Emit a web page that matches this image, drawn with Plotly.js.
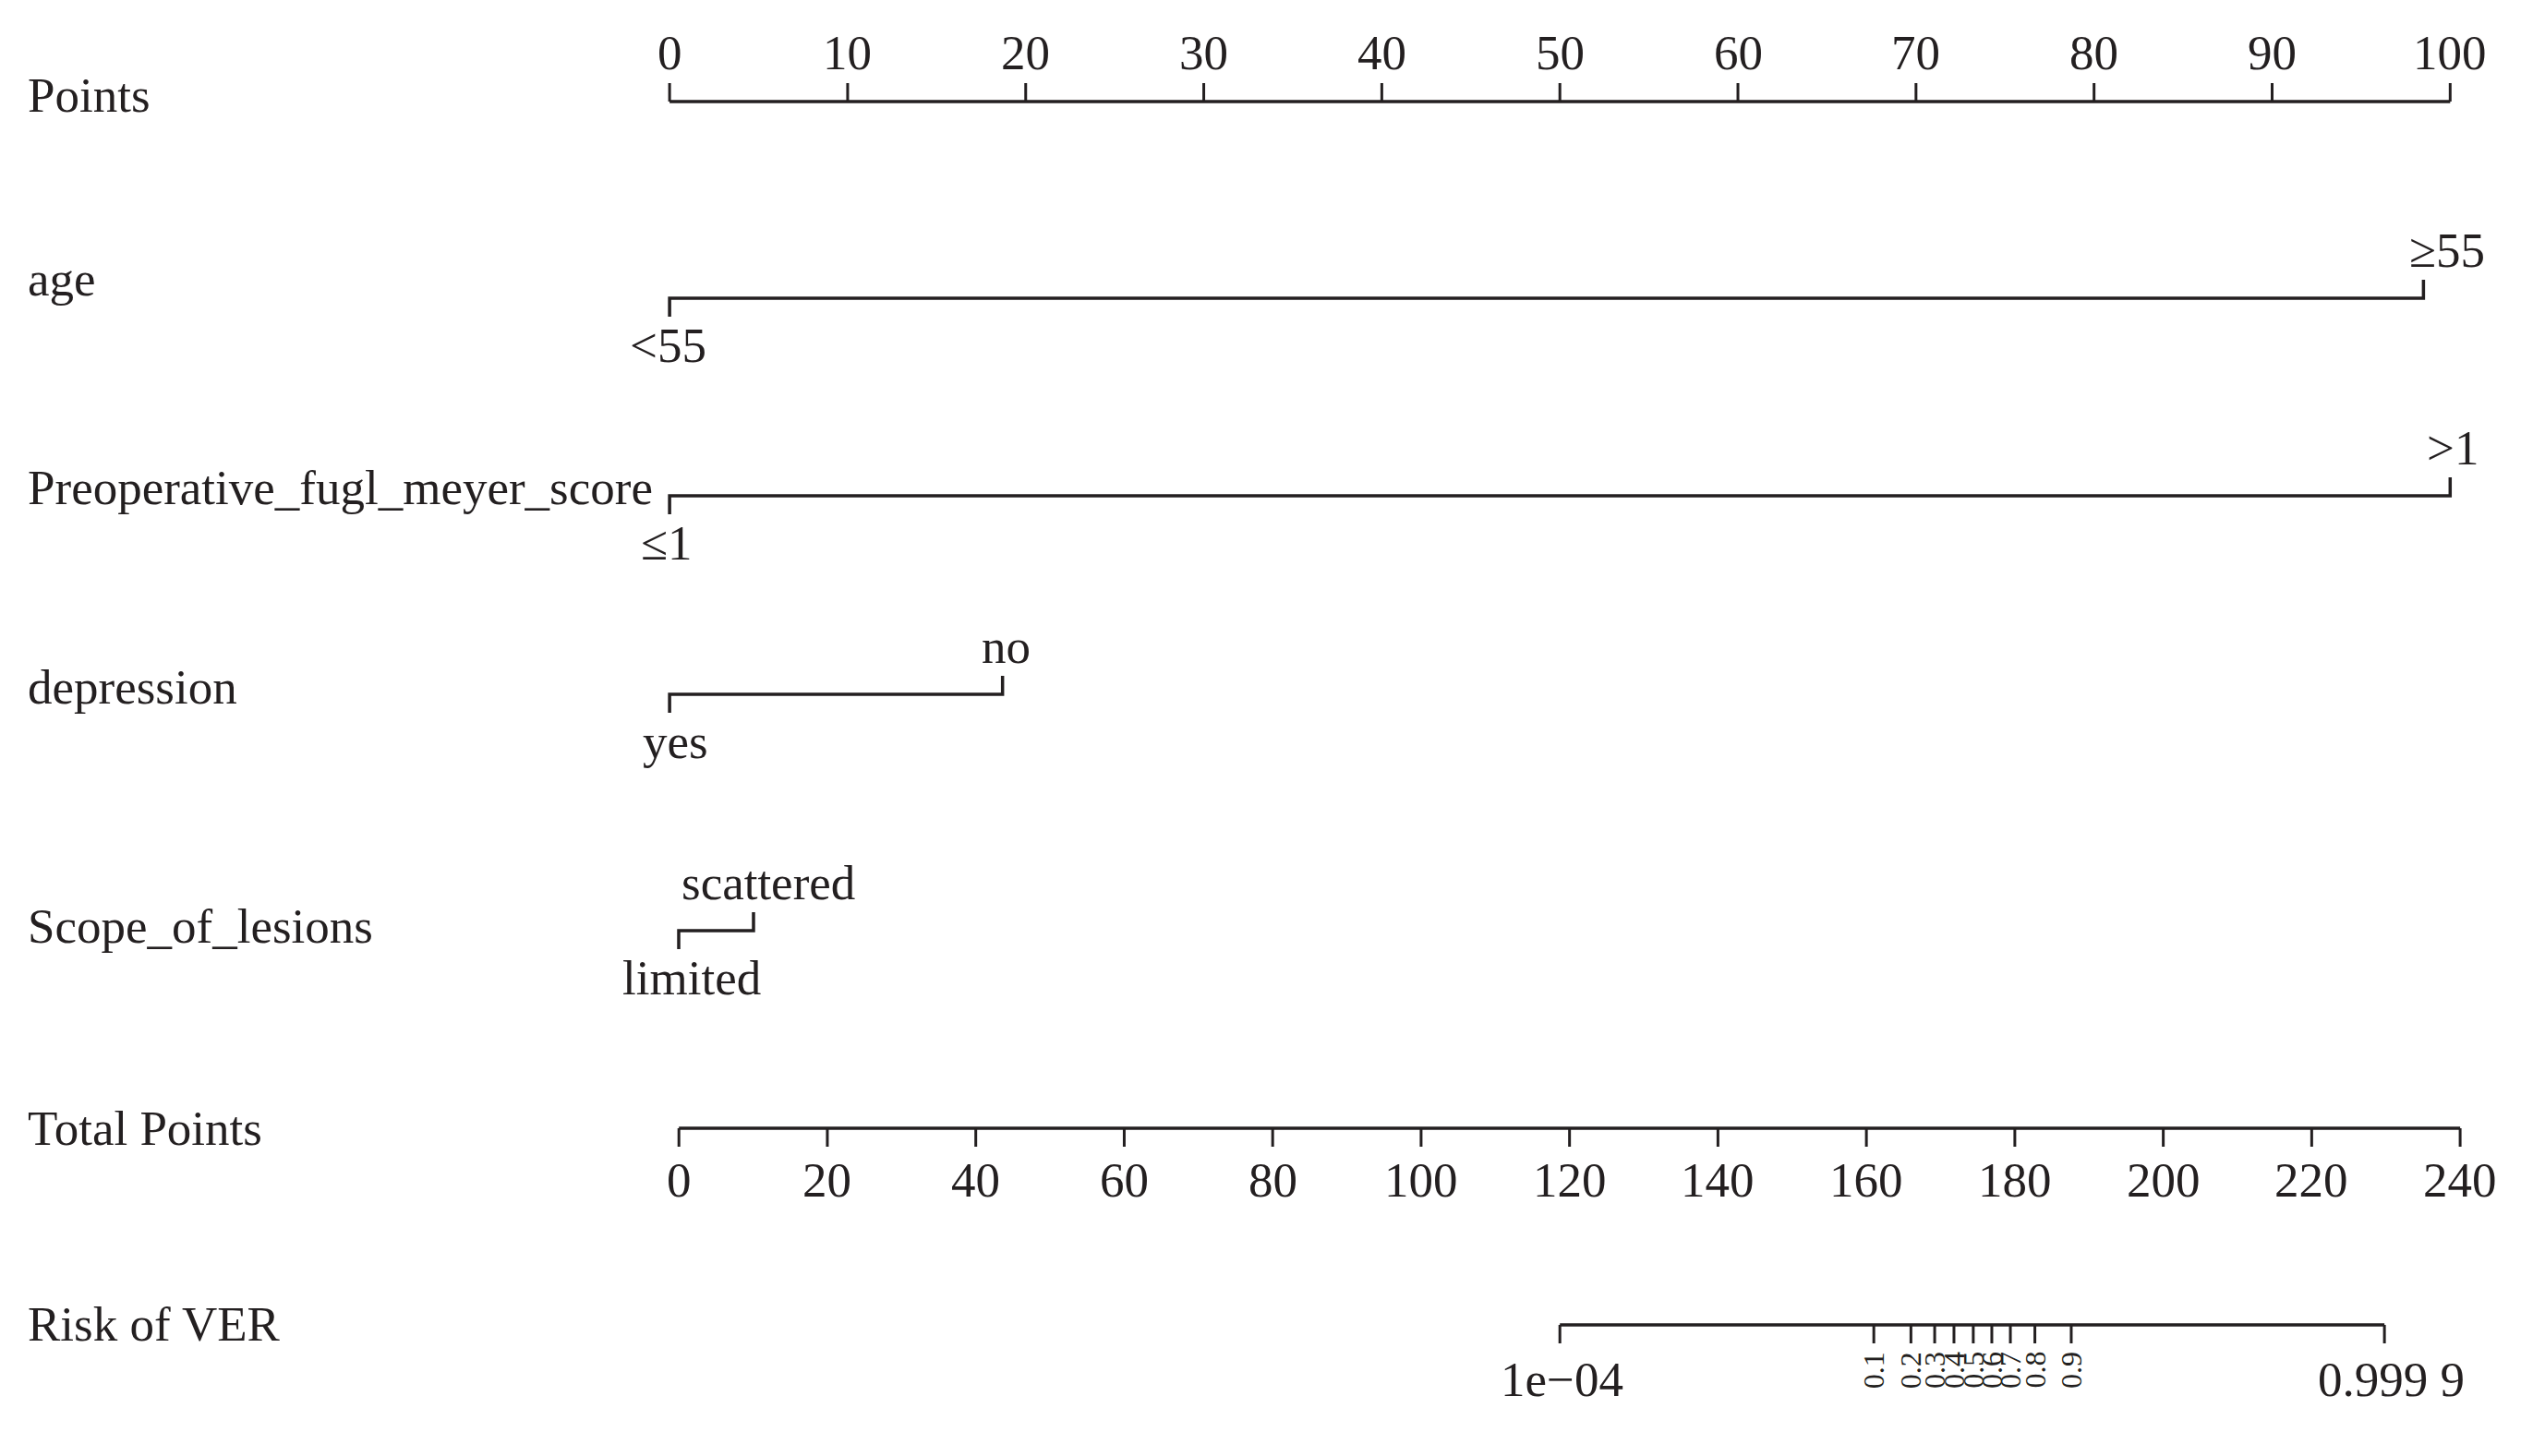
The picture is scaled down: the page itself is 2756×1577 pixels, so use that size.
<!DOCTYPE html>
<html>
<head>
<meta charset="utf-8">
<script src="https://cdn.plot.ly/plotly-3.0.1.min.js"></script>
<style>html,body{margin:0;padding:0;background:#fff;}#chart{width:2756px;height:1577px;}</style>
</head>
<body>
<div id="chart"></div>
<script>
// ---------------- DATA ----------------
const rowNames = ['Points', 'age', 'Preoperative_fugl_meyer_score', 'depression', 'Scope_of_lesions', 'Total Points', 'Risk of VER'];
const pointsTicks = [0, 10, 20, 30, 40, 50, 60, 70, 80, 90, 100];
const pointsTickLabels = ['0', '10', '20', '30', '40', '50', '60', '70', '80', '90', '100'];
const ageLevels = ['<55', '≥55'];
const agePoints = [0, 98.5];
const preopLevels = ['≤1', '>1'];
const preopPoints = [0, 100];
const depressionLevels = ['yes', 'no'];
const depressionPoints = [0, 18.7];
const scopeLevels = ['limited', 'scattered'];
const scopePoints = [0, 4.2];
const totalTicks = [0, 20, 40, 60, 80, 100, 120, 140, 160, 180, 200, 220, 240];
const totalTickLabels = ['0', '20', '40', '60', '80', '100', '120', '140', '160', '180', '200', '220', '240'];
const riskLabels = ['1e\u221204', '0.1', '0.2', '0.3', '0.4', '0.5', '0.6', '0.7', '0.8', '0.9', '0.999 9'];
const riskTotalPoints = [118.7, 161.0, 166.0, 169.2, 171.8, 174.4, 176.9, 179.4, 182.7, 187.6, 229.8];

// ---------------- STYLE / LAYOUT ----------------
const INK = '#231f20';
const FONT = 'Liberation Serif, Times New Roman, serif';
const FS = 53, FS_SMALL = 32;
const TICK = 20;
const DESC = 12; // offset from baseline to annotation box bottom
const rowY = {points: 110, age: 323, preop: 537, depression: 752, scope: 1008, total: 1222, risk: 1435};
const rowLabelBaseline = [122, 321, 547, 763, 1022, 1241, 1453];
const upBase = -33, downBase = 70;

const traces = [];
const annotations = [];

function lineTrace(x, y, xa, w) {
  traces.push({type: 'scatter', mode: 'lines', x: x, y: y, xaxis: xa, yaxis: 'y',
    line: {color: INK, width: w || 3.5}, hoverinfo: 'skip', showlegend: false, connectgaps: false});
}
function ann(text, x, xa, yBottom, opts) {
  annotations.push(Object.assign({
    text: text, x: x, xref: xa, y: yBottom, yref: 'y', xanchor: 'center', yanchor: 'bottom',
    showarrow: false, font: {family: FONT, size: FS, color: INK}
  }, opts || {}));
}

// axis with ticks (dir: -1 up, +1 down)
function axisRow(ticks, y, dir, xa) {
  lineTrace([ticks[0], ticks[ticks.length - 1]], [y, y], xa, 3.5);
  const x = [], yy = [];
  ticks.forEach(t => { x.push(t, t, null); yy.push(y, y + dir * TICK, null); });
  lineTrace(x, yy, xa, 3);
}
// categorical variable row
function varRow(pts, levels, y, xa, shifts) {
  lineTrace([pts[0], pts[0], pts[1], pts[1]], [y + TICK, y, y, y - TICK], xa, 3.5);
  ann(levels[0], pts[0], xa, y + downBase + DESC, {xshift: shifts ? shifts[0] : 0});
  ann(levels[1], pts[1], xa, y + upBase + DESC, {xshift: shifts ? shifts[1] : 0});
}

// Points axis
axisRow(pointsTicks, rowY.points, -1, 'x');
pointsTicks.forEach((t, i) => ann(pointsTickLabels[i], t, 'x', rowY.points - 34 + DESC));

varRow(agePoints, ageLevels, rowY.age, 'x', [-2, 26]);
varRow(preopPoints, preopLevels, rowY.preop, 'x', [-3, 3]);
varRow(depressionPoints, depressionLevels, rowY.depression, 'x', [6, 4]);
varRow(scopePoints, scopeLevels, rowY.scope, 'x2', [14, 16]);

// Total points axis
axisRow(totalTicks, rowY.total, 1, 'x3');
totalTicks.forEach((t, i) => ann(totalTickLabels[i], t, 'x3', rowY.total + 75 + DESC));

// Risk axis
axisRow(riskTotalPoints, rowY.risk, 1, 'x3');
riskTotalPoints.forEach((t, i) => {
  if (i === 0 || i === riskLabels.length - 1) {
    ann(riskLabels[i], t, 'x3', rowY.risk + 78 + DESC, {xshift: i === 0 ? 2 : 7});
  } else {
    ann(riskLabels[i], t, 'x3', rowY.risk + 27, {textangle: -90, yanchor: 'top',
      font: {family: FONT, size: FS_SMALL, color: INK}});
  }
});

// Row names
rowNames.forEach((n, i) => {
  annotations.push({text: n, x: 28 / 2756, xref: 'paper', y: rowLabelBaseline[i] + DESC, yref: 'y',
    xanchor: 'left', yanchor: 'bottom', showarrow: false, font: {family: FONT, size: FS, color: INK}});
});

const W = 2756, H = 1577;
const p0 = 725.1, s1 = (2653.3 - 725.1) / 100;
const p2 = 735.0;
const t0 = 735.2, s3 = (2664.1 - 735.2) / 240;
const hidden = {visible: false, showgrid: false, zeroline: false, fixedrange: true};

const layout = {
  width: W, height: H, autosize: false,
  margin: {l: 0, r: 0, t: 0, b: 0, pad: 0},
  paper_bgcolor: '#ffffff', plot_bgcolor: '#ffffff',
  showlegend: false,
  xaxis: Object.assign({domain: [0, 1], range: [-p0 / s1, (W - p0) / s1]}, hidden),
  xaxis2: Object.assign({domain: [0, 1], range: [-p2 / s1, (W - p2) / s1], overlaying: 'x'}, hidden),
  xaxis3: Object.assign({domain: [0, 1], range: [-t0 / s3, (W - t0) / s3], overlaying: 'x'}, hidden),
  yaxis: Object.assign({domain: [0, 1], range: [H, 0]}, hidden),
  annotations: annotations
};

Plotly.newPlot('chart', traces, layout, {staticPlot: true, displayModeBar: false});
</script>
</body>
</html>
